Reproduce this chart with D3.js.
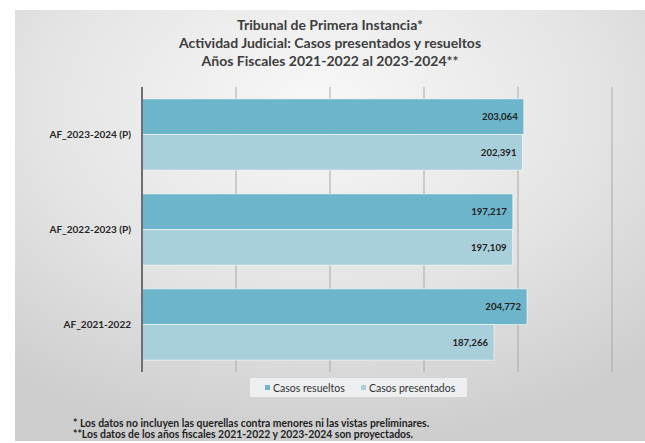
<!DOCTYPE html>
<html>
<head>
<meta charset="utf-8">
<script src="https://cdn.jsdelivr.net/npm/d3@7"></script>
<style>
    body { margin: 0; background: #ffffff; }
    svg { display: block; font-family: Lato, "Open Sans", sans-serif; }
    .title { font-size: 14px; font-weight: 700; fill: #3d3d3d; }
    .catLabel { font-size: 10px; font-weight: 700; fill: #262626; }
    .valueLabel { font-size: 9.6px; font-weight: 700; fill: #222222; }
    .legendText { font-size: 10.5px; fill: #333333; }
    .note { font-size: 10.4px; font-weight: 700; fill: #1e1e1e; }
    .grid { stroke: #a9a9a9; stroke-width: 1; }
    .axisLine { stroke: #6f6f6f; stroke-width: 2; }
</style>
</head>
<body>
<div id="chart"></div>
<script>

// chart data
var categories = ["AF_2023-2024 (P)", "AF_2022-2023 (P)", "AF_2021-2022"];
var seriesNames = ["Casos resueltos", "Casos presentados"];
var casosResueltos = [203064, 197217, 204772];
var casosPresentados = [202391, 197109, 187266];
var gridTicks = [0, 50000, 100000, 150000, 200000, 250000];

var titleLines = [
    "Tribunal de Primera Instancia*",
    "Actividad Judicial: Casos presentados y resueltos",
    "Años Fiscales 2021-2022 al 2023-2024**"
];
var notes = [
    "* Los datos no incluyen las querellas contra menores ni las vistas preliminares.",
    "**Los datos de los años fiscales 2021-2022 y 2023-2024 son proyectados."
];

var seriesColors = ["#6db5ca", "#a9cfdb"];

/**
 * Constructor for the casos chart
 */
function CasosChart() {
    var self = this;
    self.init();
}

CasosChart.prototype.init = function () {
    var self = this;

    self.width = 645;
    self.height = 443;
    self.plot = {left: 142, right: 612, top: 87, bottom: 372};

    self.svg = d3.select("#chart").append("svg")
        .attr("width", self.width)
        .attr("height", self.height);

    //soft grey panel behind everything
    var defs = self.svg.append("defs");
    var grad = defs.append("radialGradient")
        .attr("id", "bgGrad")
        .attr("cx", "48%").attr("cy", "22%").attr("r", "80%");
    grad.append("stop").attr("offset", "0%").attr("stop-color", "#f8f8f8");
    grad.append("stop").attr("offset", "55%").attr("stop-color", "#e4e4e4");
    grad.append("stop").attr("offset", "100%").attr("stop-color", "#cdcdcd");

    self.svg.append("rect")
        .attr("x", 15).attr("y", 10)
        .attr("width", self.width - 15).attr("height", 431)
        .attr("fill", "url(#bgGrad)");
};

CasosChart.prototype.update = function () {
    var self = this;
    var svg = self.svg;

    var rows = categories.map(function (c, i) {
        return {category: c, values: [casosResueltos[i], casosPresentados[i]]};
    });

    var xScale = d3.scaleLinear()
        .domain([0, d3.max(gridTicks)])
        .range([self.plot.left, self.plot.right]);

    var yScale = d3.scaleBand()
        .domain(categories)
        .range([self.plot.top, self.plot.bottom])
        .paddingInner(0.25)
        .paddingOuter(0.125);

    var serScale = d3.scaleBand()
        .domain(seriesNames)
        .range([0, yScale.bandwidth()]);

    //title
    svg.selectAll(".title").data(titleLines)
        .enter().append("text")
        .attr("class", "title")
        .attr("x", 330)
        .attr("y", function (d, i) { return 30 + i * 18; })
        .attr("text-anchor", "middle")
        .text(function (d) { return d; });

    //vertical gridlines (no tick labels in the original)
    svg.selectAll(".grid").data(gridTicks.slice(1))
        .enter().append("line")
        .attr("class", "grid")
        .attr("x1", function (d) { return xScale(d); })
        .attr("x2", function (d) { return xScale(d); })
        .attr("y1", self.plot.top)
        .attr("y2", self.plot.bottom);

    //bars
    var groups = svg.selectAll(".group").data(rows)
        .enter().append("g")
        .attr("class", "group")
        .attr("transform", function (d) { return "translate(0," + yScale(d.category) + ")"; });

    var cells = groups.selectAll(".bar")
        .data(function (d) {
            return d.values.map(function (v, j) { return {series: seriesNames[j], value: v, idx: j}; });
        })
        .enter();

    cells.append("rect")
        .attr("class", "bar")
        .attr("x", xScale(0))
        .attr("y", function (d) { return serScale(d.series); })
        .attr("width", function (d) { return xScale(d.value) - xScale(0); })
        .attr("height", serScale.bandwidth())
        .attr("fill", function (d) { return seriesColors[d.idx]; })
        .attr("stroke", "rgba(255,255,255,0.55)")
        .attr("stroke-width", 1);

    cells.append("text")
        .attr("class", "valueLabel")
        .attr("x", function (d) { return xScale(d.value) - 6; })
        .attr("y", function (d) { return serScale(d.series) + serScale.bandwidth() / 2; })
        .attr("dy", "0.35em")
        .attr("text-anchor", "end")
        .text(function (d) { return d3.format(",")(d.value); });

    //category labels
    svg.selectAll(".catLabel").data(categories)
        .enter().append("text")
        .attr("class", "catLabel")
        .attr("x", self.plot.left - 11)
        .attr("y", function (d) { return yScale(d) + yScale.bandwidth() / 2; })
        .attr("dy", "0.35em")
        .attr("text-anchor", "end")
        .text(function (d) { return d; });

    //value axis line on the left
    svg.append("line")
        .attr("class", "axisLine")
        .attr("x1", xScale(0)).attr("x2", xScale(0))
        .attr("y1", self.plot.top).attr("y2", self.plot.bottom);

    //legend
    var legend = svg.append("g").attr("transform", "translate(250,378)");
    legend.append("rect")
        .attr("width", 217).attr("height", 19)
        .attr("fill", "rgba(242,245,247,0.8)");

    var legendX = [15, 111];
    var items = legend.selectAll(".legendItem").data(seriesNames)
        .enter().append("g")
        .attr("transform", function (d, i) { return "translate(" + legendX[i] + ",0)"; });
    items.append("rect")
        .attr("x", 0).attr("y", 7)
        .attr("width", 5).attr("height", 5)
        .attr("fill", function (d, i) { return seriesColors[i]; });
    items.append("text")
        .attr("class", "legendText")
        .attr("x", 8).attr("y", 10)
        .attr("dy", "0.35em")
        .text(function (d) { return d; });

    //footnotes
    svg.selectAll(".note").data(notes)
        .enter().append("text")
        .attr("class", "note")
        .attr("x", 73)
        .attr("y", function (d, i) { return 427 + i * 11; })
        .text(function (d) { return d; });
};

var chart = new CasosChart();
chart.update();
</script>
</body>
</html>
